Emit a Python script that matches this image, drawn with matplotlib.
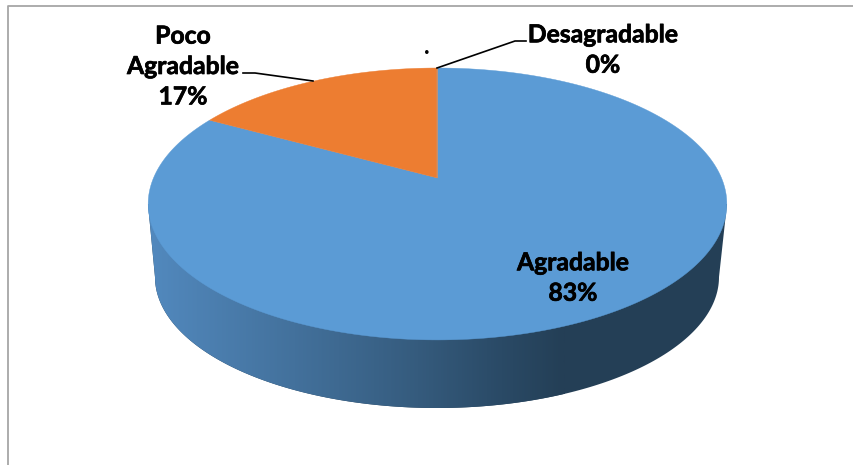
import numpy as np
import matplotlib
matplotlib.use('Agg')
from matplotlib import pyplot as plt
from matplotlib import patheffects
from matplotlib.colors import LinearSegmentedColormap
from matplotlib.patches import Polygon

categories = ['Agradable', 'Poco\nAgradable', 'Desagradable']
values = [83, 17, 0]
colors = ['#5B9BD5', '#ED7D31', '#A5A5A5']
percents = ['83%', '17%', '0%']

plt.rcParams['font.family'] = ['Lato', 'DejaVu Sans']

fig = plt.figure(figsize=(8.54, 4.65), dpi=100)
ax = fig.add_axes([0, 0, 1, 1])


# circle of the pie seen in perspective, theta runs clockwise from the top
def project(theta):
    u = np.sin(theta)
    v = -np.cos(theta)
    w = 1 - 0.191 * v
    return 437.5 + 284 * u / w, (178 + 97 * v) / w


# side of the pie, a dark gradient clipped to the outline
t = np.linspace(0, np.pi, 200)
low_x = 437 + 282 * np.cos(t)
low_y = 277 + 131 * np.sin(t)
outline = [(148, 204), (727, 204)] + list(zip(low_x, low_y))

# dark end of the gradient, the image stops short of the right edge
ax.add_patch(Polygon(outline, closed=True, facecolor='#243F56', edgecolor='none', zorder=0))
side = Polygon(outline, closed=True, facecolor='none', edgecolor='none', zorder=1)
ax.add_patch(side)
cmap = LinearSegmentedColormap.from_list('side', [
    (0.0, '#5289BE'), (0.35, '#43719C'), (0.65, '#355B7D'),
    (0.85, '#2A4A66'), (1.0, '#243F56')])
grad = np.linspace(0, 1, 400).reshape(1, -1)
img = ax.imshow(grad, cmap=cmap, extent=(148, 565, 420, 190), aspect='auto', zorder=1)
img.set_clip_path(side)

# top face, one polygon per slice
start = 0
for val, col in zip(values, colors):
    end = start + val / sum(values) * 2 * np.pi
    xs, ys = project(np.linspace(start, end, 300))
    pts = list(zip(xs, ys)) + [(437.5, 178)]
    ax.add_patch(Polygon(pts, closed=True, facecolor=col, edgecolor=col, lw=0.3, zorder=3))
    start = end

# labels
bold = [patheffects.withStroke(linewidth=0.5, foreground='black')]
txt = dict(fontsize=17.8, fontweight='bold', color='black', ha='center', va='center',
           linespacing=1.39, zorder=5, path_effects=bold)
ax.text(573, 278, categories[0] + '\n' + percents[0], **txt)
ax.text(183, 66.5, categories[1] + '\n' + percents[1], **txt)
ax.text(603, 50, categories[2] + '\n' + percents[2], **txt)
ax.text(427, 47, '.', fontsize=17, fontweight='bold', ha='center', va='center', zorder=5)

# leader lines
ax.plot([243, 255, 313], [73, 73, 81], color='black', lw=1.2, zorder=4)
ax.plot([437, 515, 526], [68, 41, 41], color='black', lw=1.2, zorder=4)

# chart frame
ax.plot([8, 8, 854], [465, 6, 6], color='#A6A6A6', lw=1.3, zorder=1)

ax.set_xlim(0, 854)
ax.set_ylim(465, 0)
ax.axis('off')

fig.savefig('out.png', dpi=100)
